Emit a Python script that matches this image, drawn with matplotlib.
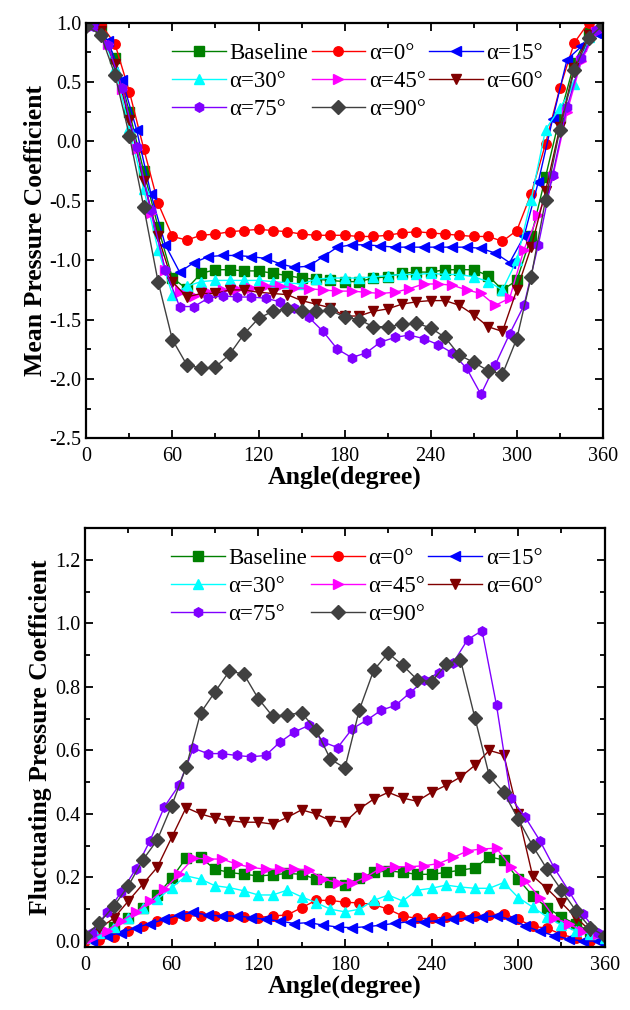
import numpy as np
import matplotlib
matplotlib.use("Agg")
import matplotlib.pyplot as plt
from matplotlib.ticker import MultipleLocator

plt.rcParams["font.family"] = ["Liberation Serif", "DejaVu Serif"]

# angles: alpha=0,30,60,90 and baseline on the 10 deg grid, alpha=15,45,75 shifted by 5 deg
ang10 = np.arange(0, 361, 10)
ang5 = np.arange(5, 360, 10)

labels = ["Baseline", "α=0°", "α=15°", "α=30°", "α=45°", "α=60°", "α=75°", "α=90°"]
colors = ["#008000", "#ff0000", "#0000ff", "#00ffff", "#ff00ff", "#800000", "#8000ff", "#404040"]
markers = ["s", "o", "<", "^", ">", "v", "h", "D"]

# ---- mean pressure coefficient ----
mean_base = [1.0, 0.95, 0.70, 0.25, -0.25, -0.72, -1.15, -1.24, -1.11, -1.08, -1.08, -1.09, -1.09,
             -1.11, -1.13, -1.15, -1.16, -1.17, -1.18, -1.18, -1.15, -1.14, -1.11, -1.10, -1.10,
             -1.08, -1.08, -1.08, -1.13, -1.25, -1.17, -0.80, -0.30, 0.21, 0.66, 0.91, 1.0]
mean_a0 = [1.0, 0.99, 0.82, 0.42, -0.06, -0.52, -0.80, -0.83, -0.79, -0.78, -0.76, -0.75, -0.74,
           -0.75, -0.76, -0.78, -0.79, -0.79, -0.79, -0.80, -0.80, -0.79, -0.77, -0.76, -0.77,
           -0.78, -0.79, -0.80, -0.80, -0.84, -0.75, -0.44, -0.02, 0.45, 0.83, 1.0, 1.0]
mean_a15 = [0.98, 0.85, 0.52, 0.10, -0.44, -0.87, -1.10, -1.02, -0.97, -0.96, -0.96, -0.97,
            -0.985, -1.03, -1.06, -1.05, -0.97, -0.89, -0.87, -0.87, -0.88, -0.89, -0.89, -0.89,
            -0.89, -0.89, -0.89, -0.90, -0.94, -1.02, -0.80, -0.34, 0.19, 0.69, 0.80, 0.91]
mean_a30 = [0.98, 0.93, 0.62, 0.11, -0.40, -0.91, -1.29, -1.22, -1.18, -1.17, -1.17, -1.17, -1.17,
            -1.18, -1.19, -1.20, -1.16, -1.15, -1.15, -1.15, -1.14, -1.13, -1.12, -1.12, -1.11,
            -1.12, -1.12, -1.14, -1.18, -1.25, -1.00, -0.49, 0.10, 0.28, 0.48, 0.88, 1.0]
mean_a45 = [0.97, 0.82, 0.44, -0.06, -0.60, -1.08, -1.27, -1.30, -1.27, -1.25, -1.24, -1.23,
            -1.22, -1.22, -1.23, -1.24, -1.25, -1.26, -1.26, -1.27, -1.28, -1.27, -1.24, -1.20,
            -1.20, -1.21, -1.25, -1.28, -1.38, -1.32, -0.91, -0.62, -0.30, 0.25, 0.68, 0.92]
mean_a60 = [1.0, 0.93, 0.65, 0.18, -0.33, -0.80, -1.18, -1.31, -1.28, -1.28, -1.25, -1.25, -1.27,
            -1.28, -1.29, -1.34, -1.37, -1.40, -1.47, -1.47, -1.43, -1.41, -1.37, -1.35, -1.34,
            -1.34, -1.38, -1.46, -1.56, -1.60, -1.25, -0.89, -0.42, 0.12, 0.62, 0.90, 1.0]
mean_a75 = [0.97, 0.81, 0.45, -0.05, -0.58, -1.08, -1.39, -1.39, -1.32, -1.30, -1.31, -1.31,
            -1.32, -1.35, -1.40, -1.48, -1.60, -1.75, -1.82, -1.78, -1.69, -1.65, -1.63, -1.66,
            -1.71, -1.78, -1.91, -2.13, -1.88, -1.62, -1.38, -0.87, -0.28, 0.29, 0.70, 0.94]
mean_a90 = [0.97, 0.90, 0.56, 0.05, -0.55, -1.18, -1.67, -1.88, -1.91, -1.90, -1.79, -1.62, -1.49,
            -1.43, -1.41, -1.43, -1.43, -1.42, -1.48, -1.50, -1.56, -1.56, -1.54, -1.53, -1.57,
            -1.65, -1.80, -1.86, -1.93, -1.96, -1.66, -1.14, -0.49, 0.10, 0.60, 0.87, 0.98]

# ---- fluctuating pressure coefficient ----
fluc_base = [0.01, 0.025, 0.044, 0.072, 0.105, 0.144, 0.198, 0.261, 0.263, 0.226, 0.216, 0.21,
             0.205, 0.208, 0.213, 0.21, 0.195, 0.185, 0.177, 0.198, 0.216, 0.221, 0.216, 0.21,
             0.21, 0.216, 0.223, 0.23, 0.265, 0.255, 0.195, 0.142, 0.105, 0.076, 0.053, 0.03, 0.01]
fluc_a0 = [0.0, 0.002, 0.013, 0.032, 0.047, 0.063, 0.068, 0.079, 0.079, 0.079, 0.079, 0.076,
           0.074, 0.079, 0.082, 0.105, 0.128, 0.128, 0.122, 0.12, 0.115, 0.10, 0.079, 0.071,
           0.071, 0.076, 0.079, 0.079, 0.082, 0.086, 0.068, 0.047, 0.04, 0.021, 0.008, 0.0, 0.0]
fluc_a15 = [0.0, 0.016, 0.026, 0.042, 0.055, 0.068, 0.082, 0.09, 0.082, 0.079, 0.079, 0.074,
            0.068, 0.063, 0.055, 0.058, 0.05, 0.044, 0.042, 0.045, 0.05, 0.056, 0.061, 0.061,
            0.064, 0.068, 0.071, 0.076, 0.079, 0.068, 0.048, 0.03, 0.017, 0.006, 0.0, 0.0]
fluc_a30 = [0.01, 0.025, 0.045, 0.074, 0.105, 0.131, 0.168, 0.205, 0.195, 0.174, 0.168, 0.158,
            0.145, 0.145, 0.16, 0.139, 0.121, 0.10, 0.092, 0.10, 0.128, 0.145, 0.126, 0.16,
            0.166, 0.176, 0.17, 0.166, 0.166, 0.184, 0.137, 0.107, 0.076, 0.05, 0.032, 0.021, 0.01]
fluc_a45 = [0.01, 0.032, 0.063, 0.09, 0.126, 0.163, 0.21, 0.261, 0.258, 0.258, 0.242, 0.232,
            0.226, 0.226, 0.226, 0.223, 0.195, 0.184, 0.182, 0.202, 0.23, 0.234, 0.234, 0.237,
            0.244, 0.263, 0.284, 0.29, 0.292, 0.234, 0.189, 0.137, 0.074, 0.053, 0.032, 0.021]
fluc_a60 = [0.005, 0.04, 0.072, 0.126, 0.179, 0.232, 0.326, 0.42, 0.40, 0.387, 0.379, 0.374,
            0.374, 0.368, 0.389, 0.413, 0.40, 0.379, 0.374, 0.416, 0.447, 0.468, 0.45, 0.44,
            0.468, 0.49, 0.516, 0.553, 0.60, 0.587, 0.40, 0.205, 0.165, 0.12, 0.074, 0.032, 0.01]
fluc_a75 = [0.026, 0.09, 0.153, 0.226, 0.316, 0.423, 0.49, 0.607, 0.59, 0.59, 0.584, 0.58,
            0.584, 0.626, 0.658, 0.679, 0.626, 0.609, 0.668, 0.695, 0.726, 0.742, 0.781, 0.821,
            0.844, 0.876, 0.949, 0.977, 0.742, 0.45, 0.389, 0.316, 0.23, 0.158, 0.084, 0.026]
fluc_a90 = [0.016, 0.058, 0.11, 0.174, 0.255, 0.318, 0.426, 0.547, 0.718, 0.784, 0.85, 0.84,
            0.763, 0.707, 0.713, 0.718, 0.665, 0.572, 0.545, 0.728, 0.853, 0.906, 0.868, 0.823,
            0.816, 0.871, 0.886, 0.703, 0.52, 0.468, 0.384, 0.30, 0.226, 0.16, 0.095, 0.042, 0.016]

xs = [ang10, ang10, ang5, ang10, ang5, ang10, ang5, ang10]
mean_all = [mean_base, mean_a0, mean_a15, mean_a30, mean_a45, mean_a60, mean_a75, mean_a90]
fluc_all = [fluc_base, fluc_a0, fluc_a15, fluc_a30, fluc_a45, fluc_a60, fluc_a75, fluc_a90]

fig = plt.figure(figsize=(6.3, 10.1), dpi=100)
ax1 = fig.add_axes([0.137, 0.566, 0.82, 0.4115])
ax2 = fig.add_axes([0.135, 0.062, 0.825, 0.4152])


def draw(ax, ys):
    handles = []
    for x, y, c, m, lab in zip(xs, ys, colors, markers, labels):
        h, = ax.plot(x, y, color=c, marker=m, markersize=6.8, linewidth=1.0,
                     markeredgecolor=c, label=lab)
        handles.append(h)
    order = [0, 3, 6, 1, 4, 7, 2, 5]
    ax.legend([handles[i] for i in order], [labels[i] for i in order], ncol=3,
              loc="upper left", bbox_to_anchor=(0.135, 0.99), frameon=False,
              fontsize=16.5, handlelength=2.35, handletextpad=0.15, columnspacing=0.15,
              labelspacing=0.3, borderpad=0.2)
    ax.set_xlim(0, 360)
    ax.xaxis.set_major_locator(MultipleLocator(60))
    ax.xaxis.set_minor_locator(MultipleLocator(30))
    ax.tick_params(which="both", direction="in", top=True, right=True, width=1.3)
    ax.tick_params(which="major", length=6, labelsize=14.5)
    ax.tick_params(axis="x", which="major", pad=6)
    ax.tick_params(which="minor", length=3.5)
    for s in ax.spines.values():
        s.set_linewidth(1.6)
    ax.set_xlabel("Angle(degree)", fontsize=18.5, fontweight="bold", labelpad=0)


draw(ax1, mean_all)
ax1.set_ylim(-2.5, 1.0)
ax1.yaxis.set_major_locator(MultipleLocator(0.5))
ax1.yaxis.set_minor_locator(MultipleLocator(0.25))
ax1.yaxis.set_major_formatter(matplotlib.ticker.FormatStrFormatter("%.1f"))
ax1.set_ylabel("Mean Pressure Coefficient", fontsize=18.5, fontweight="bold", labelpad=2)

draw(ax2, fluc_all)
ax2.set_ylim(-0.02, 1.3)
ax2.yaxis.set_major_locator(MultipleLocator(0.2))
ax2.yaxis.set_minor_locator(MultipleLocator(0.1))
ax2.yaxis.set_major_formatter(matplotlib.ticker.FormatStrFormatter("%.1f"))
ax2.set_ylabel("Fluctuating Pressure Coefficient", fontsize=18.5, fontweight="bold", labelpad=2)

fig.savefig("out.png", dpi=100)
